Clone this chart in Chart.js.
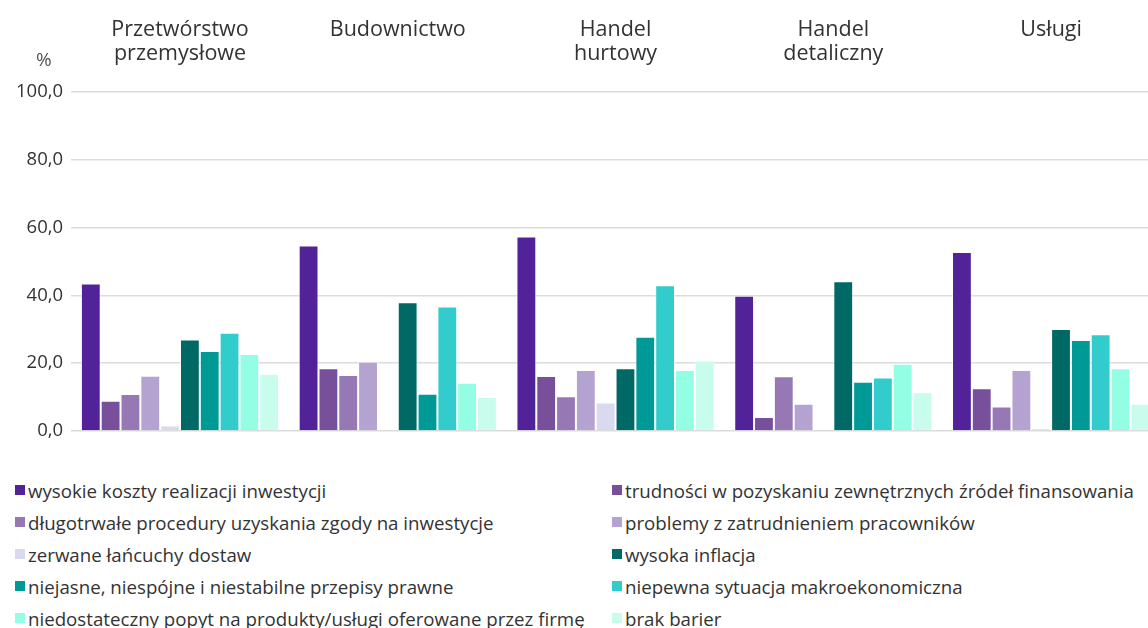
<!DOCTYPE html>
<html>
<head>
<meta charset="utf-8">
<script src="https://cdn.jsdelivr.net/npm/chart.js@4.4.1/dist/chart.umd.min.js"></script>
<style>
  html, body { margin: 0; padding: 0; background: #fff; overflow: hidden; }
  body { width: 1148px; height: 628px; position: relative; font-family: "Open Sans", sans-serif; color: #333; }
  #chart-box { position: absolute; left: 0; top: -24px; width: 1160px; height: 474px; }
  #unit { position: absolute; left: 36px; top: 46px; font-size: 19px; color: #555; }
  #legend { position: absolute; left: 15px; top: 474px; display: grid; grid-template-columns: 597px 530px; }
  #legend .item { display: flex; align-items: center; height: 32px; font-size: 18.7px; white-space: nowrap; }
  #legend .box { width: 10px; height: 10px; margin-right: 3px; flex: none; }
</style>
</head>
<body>
<div id="chart-box"><canvas id="myChart"></canvas></div>
<div id="unit">%</div>
<div id="legend"></div>
<script>
'use strict';

// categories (two-line labels as on the reference)
const categories = [
    ['Przetwórstwo', 'przemysłowe'],
    ['Budownictwo'],
    ['Handel', 'hurtowy'],
    ['Handel', 'detaliczny'],
    ['Usługi'],
];

const seriesNames = [
    'wysokie koszty realizacji inwestycji',
    'trudności w pozyskaniu zewnętrznych źródeł finansowania',
    'długotrwałe procedury uzyskania zgody na inwestycje',
    'problemy z zatrudnieniem pracowników',
    'zerwane łańcuchy dostaw',
    'wysoka inflacja',
    'niejasne, niespójne i niestabilne przepisy prawne',
    'niepewna sytuacja makroekonomiczna',
    'niedostateczny popyt na produkty/usługi oferowane przez firmę',
    'brak barier',
];

// values per series, in category order
const kosztyInwestycji   = [43.5, 54.7, 57.4, 39.9, 52.8];
const finansowanie       = [8.9, 18.5, 16.2, 4.1, 12.6];
const procedury          = [10.9, 16.5, 10.2, 16.1, 7.2];
const zatrudnienie       = [16.3, 20.4, 18.0, 8.0, 18.0];
const lancuchyDostaw     = [1.6, 0, 8.4, 0, 0.8];
const inflacja           = [27.0, 38.0, 18.5, 44.2, 30.1];
const przepisy           = [23.6, 11.0, 27.8, 14.5, 26.8];
const makroekonomia      = [29.0, 36.7, 43.0, 15.8, 28.5];
const popyt              = [22.7, 14.2, 18.0, 19.8, 18.5];
const brakBarier         = [16.9, 10.0, 20.8, 11.4, 8.0];

const seriesValues = [
    kosztyInwestycji, finansowanie, procedury, zatrudnienie, lancuchyDostaw,
    inflacja, przepisy, makroekonomia, popyt, brakBarier,
];

const seriesColors = [
    '#522398', '#774f9b', '#9678b4', '#b4a2d0', '#d9d9f0',
    '#006966', '#009a96', '#33cccc', '#94fee5', '#c8fcec',
];

const yTicks = [0, 20, 40, 60, 80, 100];

let datasets = seriesNames.map(function (name, i) {
    return {
        label: name,
        data: seriesValues[i],
        backgroundColor: seriesColors[i],
        borderColor: 'rgba(255,255,255,0.55)',
        borderWidth: 1,
        categoryPercentage: 0.91,
        barPercentage: 1.0,
    };
});

let ctx = document.getElementById('myChart').getContext('2d');
let myChart = new Chart(ctx, {
    type: 'bar',
    data: {
        labels: categories,
        datasets: datasets,
    },
    options: {
        responsive: true,
        maintainAspectRatio: false,
        animation: false,
        layout: {
            padding: { left: 8, right: 0, top: 16, bottom: 0 }
        },
        plugins: {
            legend: { display: false },
            tooltip: { enabled: false },
        },
        scales: {
            x: {
                position: 'top',
                grid: { display: false, drawTicks: false },
                border: { display: false },
                ticks: {
                    color: '#333',
                    padding: 26,
                    crossAlign: 'far',
                    maxRotation: 0,
                    autoSkip: false,
                    font: { family: 'Open Sans', size: 21.5, lineHeight: 1.12 },
                },
            },
            y: {
                min: 0,
                max: 100,
                afterBuildTicks: function (axis) {
                    axis.ticks = yTicks.map(function (v) { return { value: v }; });
                },
                grid: {
                    color: '#dcdcdc',
                    lineWidth: 1.5,
                    drawTicks: false,
                },
                border: { display: false },
                ticks: {
                    color: '#333',
                    padding: 8,
                    font: { family: 'Open Sans', size: 18.5 },
                    callback: function (v) { return v.toFixed(1).replace('.', ','); },
                },
            },
        },
    },
});

// legend in two columns, built from the datasets
let legend = document.getElementById('legend');
seriesNames.forEach(function (name, i) {
    let item = document.createElement('div');
    item.className = 'item';
    let box = document.createElement('span');
    box.className = 'box';
    box.style.background = seriesColors[i];
    let txt = document.createElement('span');
    txt.textContent = name;
    item.appendChild(box);
    item.appendChild(txt);
    legend.appendChild(item);
});
</script>
</body>
</html>
